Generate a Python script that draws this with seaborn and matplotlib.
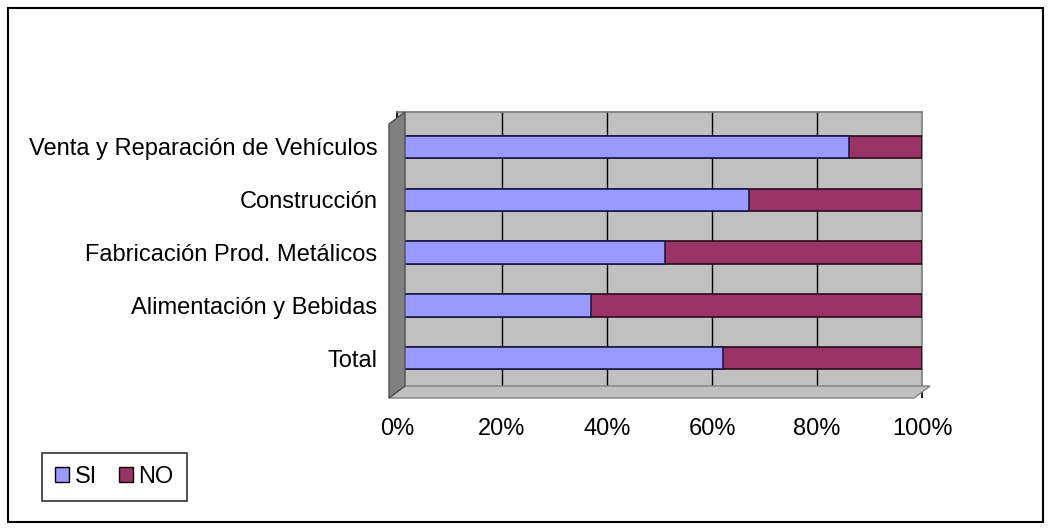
import matplotlib
matplotlib.use("Agg")
import matplotlib.pyplot as plt
import seaborn as sns
import pandas as pd
from matplotlib.patches import Rectangle, Patch, Polygon

categories = ["Venta y Reparación de Vehículos", "Construcción",
              "Fabricación Prod. Metálicos", "Alimentación y Bebidas", "Total"]
si_values = [86, 67, 51, 37, 62]
no_values = [14, 33, 49, 63, 38]
tick_labels = ["0%", "20%", "40%", "60%", "80%", "100%"]

SI_COLOR = "#9999FF"
NO_COLOR = "#993366"

sns.set_theme(style="white")
plt.rcParams['font.family'] = ['Liberation Sans', 'DejaVu Sans']
plt.rcParams['text.color'] = 'black'
plt.rcParams['xtick.color'] = 'black'
plt.rcParams['ytick.color'] = 'black'

df = pd.DataFrame({"cat": categories, "SI": si_values,
                   "total": [s + n for s, n in zip(si_values, no_values)]})

W, H = 1051, 530
fig = plt.figure(figsize=(W / 100, H / 100), dpi=100)
fig.patch.set_facecolor("white")

L, R, T, B = 397, 922, 112, 390
ax = fig.add_axes([L / W, 1 - B / H, (R - L) / W, (B - T) / H])
ax.set_facecolor("#C0C0C0")

# 3D-like floor and left wall
fig.patches.append(Polygon([[(L - 8) / W, 1 - (B + 8) / H], [(R - 8) / W, 1 - (B + 8) / H],
                            [(R + 8) / W, 1 - (B - 4) / H], [(L + 8) / W, 1 - (B - 4) / H]],
                           closed=True, transform=fig.transFigure, facecolor="#C0C0C0",
                           edgecolor="#808080", lw=1, zorder=0.5))
fig.patches.append(Polygon([[(L - 8) / W, 1 - (B + 8) / H], [(L + 8) / W, 1 - (B - 4) / H],
                            [(L + 8) / W, 1 - T / H], [(L - 8) / W, 1 - (T + 12) / H]],
                           closed=True, transform=fig.transFigure, facecolor="#808080",
                           edgecolor="#505050", lw=1, zorder=0.6))

sns.barplot(data=df, y="cat", x="total", color=NO_COLOR, orient="h", width=0.42,
            edgecolor="#2a0a1a", linewidth=1.2, ax=ax, saturation=1, zorder=3)
sns.barplot(data=df, y="cat", x="SI", color=SI_COLOR, orient="h", width=0.42,
            edgecolor="#1a1a4a", linewidth=1.2, ax=ax, saturation=1, zorder=4)

ax.set_xlim(0, 100)
ax.set_ylim(4.6, -0.66)
ax.set_xticks([0, 20, 40, 60, 80, 100])
ax.set_xticklabels(tick_labels, fontsize=17)
ax.tick_params(axis="y", labelsize=17, length=4, left=True, color="black", pad=10)
ax.tick_params(axis="x", length=6, bottom=True, color="black", pad=14)
ax.set_xlabel("")
ax.set_ylabel("")
for x in [20, 40, 60, 80]:
    ax.axvline(x, color="black", lw=1, zorder=1)
for s in ["top", "right"]:
    ax.spines[s].set_color("#808080")
ax.spines["left"].set_color("black")
ax.spines["bottom"].set_color("black")

handles = [Patch(facecolor=SI_COLOR, edgecolor="black", label="SI"),
           Patch(facecolor=NO_COLOR, edgecolor="black", label="NO")]
leg = fig.legend(handles=handles, loc="upper left", bbox_to_anchor=(42 / W, 1 - 453 / H),
                 ncol=2, frameon=True, fontsize=17, handlelength=0.6, handleheight=0.6,
                 handletextpad=0.25, columnspacing=0.9, borderpad=0.55, borderaxespad=0,
                 fancybox=False)
leg.get_frame().set_edgecolor("black")
leg.get_frame().set_linewidth(1.2)

fig.patches.append(Rectangle((8 / W, 8 / H), (W - 16) / W, (H - 16) / H, transform=fig.transFigure,
                             fill=False, edgecolor="black", lw=1.5, zorder=0))

fig.savefig("out.png", dpi=100)
